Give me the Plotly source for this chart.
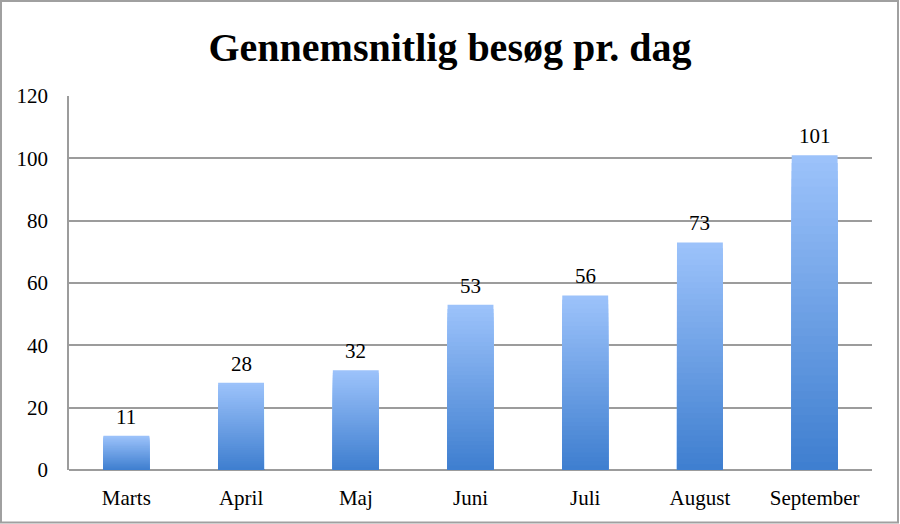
import plotly.graph_objects as go

months = ["Marts", "April", "Maj", "Juni", "Juli", "August", "September"]
visits = [11, 28, 32, 53, 56, 73, 101]
title_text = "Gennemsnitlig besøg pr. dag"
y_ticks = [0, 20, 40, 60, 80, 100, 120]

W, H = 900, 524
ML, MR, MT, MB = 69, 28, 96, 54
PW, PH = W - ML - MR, H - MT - MB

top_rgb = (157, 195, 251)
bot_rgb = (62, 126, 207)

fig = go.Figure()
N = 40
for j in range(N, 0, -1):
    f = (j - 0.5) / N
    c = tuple(int(round(b + (t - b) * f)) for t, b in zip(top_rgb, bot_rgb))
    fig.add_trace(go.Bar(
        x=months,
        y=[v * j / N for v in visits],
        marker=dict(color="rgb(%d,%d,%d)" % c, line=dict(width=0)),
        hoverinfo="skip",
        showlegend=False,
    ))

for m, v in zip(months, visits):
    fig.add_annotation(x=m, y=v, text=str(v), showarrow=False,
                       yanchor="bottom", yshift=5,
                       font=dict(family="Liberation Serif", size=21, color="#000"))

def px_x(p):
    return (p - ML) / PW

def px_y(p):
    return (H - MB - p) / PH

fig.add_shape(type="rect", xref="paper", yref="paper",
              x0=px_x(1), x1=px_x(898), y0=px_y(522.5), y1=px_y(1),
              line=dict(color="#a0a0a0", width=2), fillcolor="rgba(0,0,0,0)",
              layer="below")

fig.update_layout(
    width=W, height=H,
    margin=dict(l=ML, r=MR, t=MT, b=MB),
    paper_bgcolor="white", plot_bgcolor="white",
    barmode="overlay", bargap=0.6,
    title=dict(text="<b>" + title_text + "</b>", x=0.5, xanchor="center",
               y=1 - 47 / H, yanchor="middle",
               font=dict(family="Liberation Serif", size=40, color="#000")),
    xaxis=dict(showgrid=False, showline=False, zeroline=False,
               ticks="", ticklabelstandoff=13,
               tickfont=dict(family="Liberation Serif", size=21, color="#000")),
    yaxis=dict(range=[0, 120], tickvals=y_ticks, showgrid=True,
               gridcolor="#9c9c9c", gridwidth=1.6,
               showline=True, linecolor="#9c9c9c", linewidth=1.6,
               zeroline=True, zerolinecolor="#9c9c9c", zerolinewidth=1.6,
               ticks="", ticklabelstandoff=15,
               tickfont=dict(family="Liberation Serif", size=21, color="#000")),
)

fig.write_html("out.html", config={"displayModeBar": False},
               post_script="document.body.style.margin='0';document.body.style.overflow='hidden';")
